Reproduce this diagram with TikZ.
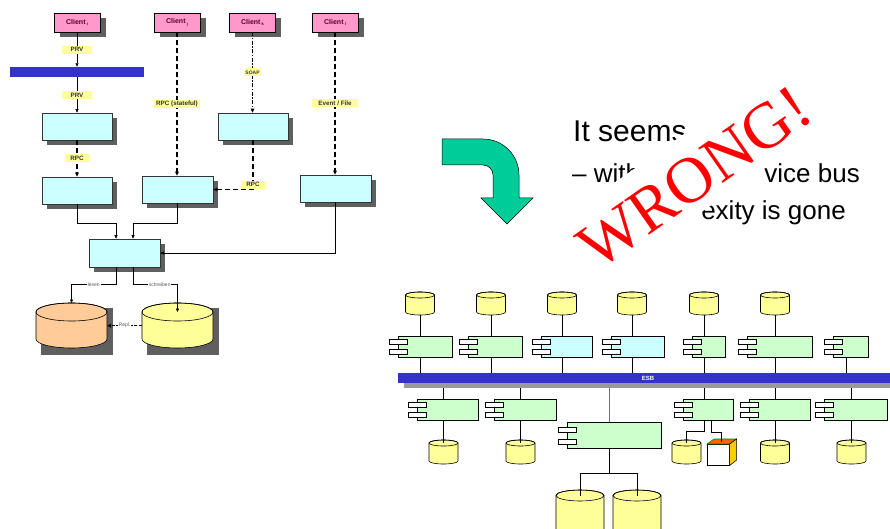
\documentclass[tikz,border=0pt]{standalone}
\usepackage{fontspec}
\setmainfont{Liberation Serif}
\setsansfont{Liberation Sans}
\usetikzlibrary{arrows.meta,shadows,calc}

\definecolor{pinkc}{HTML}{FF99CC}
\definecolor{cyanc}{HTML}{CCFFFF}
\definecolor{greenc}{HTML}{CCFFCC}
\definecolor{yellowc}{HTML}{FFFF99}
\definecolor{orangec}{HTML}{FFCC99}
\definecolor{busblue}{HTML}{3333CC}
\definecolor{busgray}{HTML}{999999}
\definecolor{shadowc}{HTML}{5F5F5F}
\definecolor{arrowgreen}{HTML}{00CC99}
\definecolor{clienttext}{HTML}{5A0030}
\definecolor{tagtext}{HTML}{333333}
\definecolor{cubetop}{HTML}{FF6600}
\definecolor{cubeside}{HTML}{FFCC00}
\definecolor{cubeedge}{HTML}{008000}

% database drum: name, centre x, top y, width, height, ellipse radius, fill
\newcommand\drawtank[7]{%
  \node[inner sep=0pt, minimum width=#4pt, minimum height=#5pt, anchor=north] (#1) at (#2,#3) {};
  \coordinate (#1t) at (#2,{#3+#6});
  \draw[tankline, fill=#7] ({#2-#4/2},{#3+#6}) -- ({#2-#4/2},{#3+#5-#6})
     arc[start angle=180, end angle=360, x radius={0.5pt*#4}, y radius={#6*1pt}]
     -- ({#2+#4/2},{#3+#6})
     arc[start angle=0, end angle=180, x radius={0.5pt*#4}, y radius={#6*1pt}] -- cycle;
  \draw[tankline] (#2,{#3+#6}) ellipse[x radius={0.5pt*#4}, y radius={#6*1pt}];
}
% UML component: name, left x, top y, width, height, fill, port offsets
\newcommand\umlcomp[8]{%
  \node[compbody, fill=#6, minimum width=#4pt, minimum height=#5pt, anchor=north west] (#1) at (#2,#3) {};
  \node[port, anchor=north west] (#1a) at ({#2-9},{#3+#7}) {};
  \node[port, anchor=north west] (#1b) at ({#2-9},{#3+#8}) {};
}

\begin{document}
\begin{tikzpicture}[x=1pt,y=-1pt,
  clientbox/.style={draw=black, line width=0.6pt, fill=pinkc, minimum width=46pt,
    minimum height=19pt, inner sep=0pt, text=clienttext,
    font=\sffamily\bfseries\fontsize{7}{8}\selectfont,
    drop shadow={shadow xshift=5.5pt, shadow yshift=-5pt, fill=shadowc, opacity=1}},
  procbox/.style={draw=black!80, line width=0.6pt, fill=cyanc, minimum width=70pt,
    minimum height=27pt, inner sep=0pt,
    drop shadow={shadow xshift=5pt, shadow yshift=-5pt, fill=shadowc, opacity=1}},
  tag/.style={fill=yellowc, inner sep=0pt, minimum height=8pt, text=tagtext,
    font=\sffamily\bfseries\fontsize{6.3}{7}\selectfont},
  note/.style={fill=white, inner sep=0.8pt, text=black!65,
    font=\sffamily\fontsize{5}{5}\selectfont},
  link/.style={line width=0.7pt, -{Triangle[length=3.5pt,width=3pt]}},
  dlink/.style={line width=1.3pt, dash pattern=on 5pt off 3pt,
    -{Triangle[length=4pt,width=3.5pt]}},
  ddlink/.style={line width=1.3pt, dash pattern=on 4pt off 1.5pt on 1.5pt off 1.5pt,
    -{Triangle[length=4pt,width=3.5pt]}},
  tankline/.style={draw=black, line width=0.6pt},
  compbody/.style={draw=black, line width=0.6pt, inner sep=0pt},
  port/.style={draw=black, line width=0.6pt, fill=white, minimum width=18pt,
    minimum height=5pt, inner sep=0pt},
  wire/.style={line width=0.7pt},
  slide/.style={inner sep=0pt, text=black, font=\sffamily\fontsize{26}{26}\selectfont}
]
\clip (0,0) rectangle (890,529);
\fill[white] (0,0) rectangle (890,529);

% ---------- point-to-point landscape ----------
\node[clientbox] (ci) at (77,22.5) {Client\,\raisebox{-1.5pt}{\fontsize{4}{4}\selectfont i}};
\node[clientbox] (cj) at (177,22.5) {Client\,\raisebox{-1.5pt}{\fontsize{4}{4}\selectfont j}};
\node[clientbox] (ck) at (252.5,22.5) {Client\,\raisebox{-1.5pt}{\fontsize{4}{4}\selectfont k}};
\node[clientbox] (cl) at (335,22.5) {Client\,\raisebox{-1.5pt}{\fontsize{4}{4}\selectfont l}};

\node[fill=busblue, minimum width=134pt, minimum height=10pt, inner sep=0pt] (bar) at (77,72) {};

\node[procbox] (a1) at (77,126.5) {};
\node[procbox] (b1) at (253,126.5) {};
\node[procbox] (a2) at (77,190.5) {};
\node[procbox, minimum width=71pt] (c2) at (177.5,189.5) {};
\node[procbox, minimum width=71pt] (d2) at (335.5,188.5) {};
\node[procbox, minimum width=71pt, minimum height=28pt] (hub) at (124.5,253) {};

\draw[link] (ci.south) -- node[tag, minimum width=30pt] {PRV} (ci.south |- bar.north);
\draw[link] (bar.south -| ci) -- node[tag, minimum width=30pt] {PRV} (a1.north);
\draw[dlink] (a1.south) -- node[tag, minimum width=25pt] {RPC} (a2.north);
\draw[dlink] (cj.south) -- node[tag, minimum width=46pt] {RPC (stateful)} (cj.south |- c2.north);
\draw[ddlink] (ck.south) -- node[tag, minimum width=16pt, font=\sffamily\bfseries\fontsize{5}{5}\selectfont] {SOAP} (ck.south |- b1.north);
\draw[dlink] (cl.south) -- node[tag, minimum width=46pt] {Event / File} (cl.south |- d2.north);
\draw[dlink] (b1.south) |- node[tag, minimum width=25pt, pos=0.45] {RPC} (c2.east);

\draw[link] (a2.south) -- ++(0,19) -| ([xshift=-8.5pt]hub.north);
\draw[link] (c2.south) -- ++(0,20) -| ([xshift=8.5pt]hub.north);
\draw[link] (d2.south) |- (hub.east);

% shared databases
\fill[shadowc] (41,308) rectangle (113,355);
\fill[shadowc] (147,308) rectangle (219,355);
\drawtank{dbread}{71.5}{303}{71}{45}{9}{orangec}
\drawtank{dbwrite}{177.5}{303}{71}{45}{9}{yellowc}

\draw[link] ([xshift=-8.5pt]hub.south) -- ++(0,17) -| node[note, pos=0.25] {lesen} (dbread.north);
\draw[link] ([xshift=8.5pt]hub.south) -- ++(0,17) -| node[note, pos=0.3] {schreiben} (dbwritet);
\draw[line width=1.3pt, dash pattern=on 3pt off 1.5pt, -{Triangle[length=4pt,width=4pt]}]
  (dbwrite.west) -- node[note] {Repl.} (dbread.east);

% ---------- turn arrow ----------
\draw[fill=arrowgreen, line width=0.5pt]
  (442,139) -- (483,139) arc[start angle=90, end angle=0, radius=36pt]
  -- (519,198) -- (533,198) -- (507,224) -- (481,198) -- (493,198) -- (493,175)
  arc[start angle=0, end angle=90, radius=10pt] -- (442,165) -- cycle;

% ---------- slide text ----------
\node[slide, font=\sffamily\fontsize{30}{30}\selectfont, anchor=base west] (line1) at (573,142) {It seems};
\node[slide, anchor=base west] (line2a) at (572,183) {– with};
\node[slide, anchor=base east] (line2b) at (860,183) {vice bus};
\node[slide, anchor=base east] (line3) at (846,219) {exity is gone};

% ---------- service bus landscape ----------
\drawtank{t1}{420}{292}{29}{23}{3}{yellowc}
\drawtank{t2}{491}{292}{29}{23}{3}{yellowc}
\drawtank{t3}{562}{292}{29}{23}{3}{yellowc}
\drawtank{t4}{632}{292}{29}{23}{3}{yellowc}
\drawtank{t5}{704}{292}{29}{23}{3}{yellowc}
\drawtank{t6}{775}{292}{29}{23}{3}{yellowc}

\umlcomp{k1}{398}{336}{54}{21}{greenc}{3}{13}
\umlcomp{k2}{468}{336}{54}{21}{greenc}{3}{13}
\umlcomp{k3}{541}{336}{51}{21}{cyanc}{3}{13}
\umlcomp{k4}{611}{336}{53}{21}{cyanc}{3}{13}
\umlcomp{k5}{692}{336}{33}{21}{greenc}{3}{13}
\umlcomp{k6}{747}{336}{65}{21}{greenc}{3}{13}
\umlcomp{k7}{833}{336}{35}{21}{greenc}{3}{13}

\node[fill=busgray, minimum width=490pt, minimum height=5pt, inner sep=0pt, anchor=north west] (esbshade) at (404,383) {};
\node[fill=busblue, minimum width=494pt, minimum height=10pt, inner sep=0pt, anchor=north west] (esb) at (398,373) {};
\node[text=white, inner sep=0pt, font=\sffamily\bfseries\fontsize{6}{6}\selectfont] (esblabel) at (648,378.5) {ESB};

\foreach \k/\t in {k1/t1,k2/t2,k3/t3,k4/t4,k5/t5,k6/t6}{
  \draw[wire] (\t.south) -- (\k.north -| \t);
  \draw[wire] (\k.south -| \t) -- (esb.north -| \t);
}
\draw[wire] ([xshift=-4.5pt]k7.south) -- ([xshift=-4.5pt]k7.south |- esb.north);

\umlcomp{m1}{417}{399}{61}{21}{greenc}{3}{13}
\umlcomp{m2}{494}{399}{62}{21}{greenc}{3}{13}
\umlcomp{m3}{683}{399}{50}{21}{greenc}{3}{13}
\umlcomp{m4}{749}{399}{61}{21}{greenc}{3}{13}
\umlcomp{m5}{824}{399}{63}{21}{greenc}{3}{13}
\umlcomp{m0}{567}{422}{94}{26}{greenc}{5}{17}

\drawtank{u1}{443.5}{440}{29}{24}{3}{yellowc}
\drawtank{u2}{520.5}{440}{29}{24}{3}{yellowc}
\drawtank{u3}{686.5}{440}{29}{24}{3}{yellowc}
\drawtank{u4}{775}{440}{29}{24}{3}{yellowc}
\drawtank{u5}{851.5}{440}{29}{24}{3}{yellowc}
\drawtank{w1}{580}{490}{48}{60}{5.5}{yellowc}
\drawtank{w2}{637}{490}{48}{60}{5.5}{yellowc}

% file store drawn as a small cube
\node[inner sep=0pt, minimum width=22pt, minimum height=21pt, anchor=north west, draw=black, fill=white, line width=0.6pt] (cube) at (707,444) {};
\coordinate (cubet) at (721,441.5);
\draw[fill=cubetop, draw=cubeedge, line width=0.6pt] (cube.north west) -- ++(7,-5) -- ++(22,0) -- (cube.north east) -- cycle;
\draw[fill=cubeside, draw=black, line width=0.6pt] (cube.north east) -- ++(7,-5) -- ++(0,21) -- (cube.south east) -- cycle;

\foreach \m/\u in {m1/u1,m2/u2,m4/u4,m5/u5}{
  \draw[wire] (esbshade.south -| \u) -- (\m.north -| \u);
  \draw[wire] (\m.south -| \u) -- (\u t);
}
\draw[wire] ([xshift=-4pt]m3.north) -- ([xshift=-4pt]m3.north |- esbshade.south);
\draw[wire] ([xshift=-4pt]m3.south) -- ++(0,11) -| (u3t);
\draw[wire] ([xshift=3pt]m3.south) -- ++(0,12) -| (cubet);

\draw[line width=1.6pt, draw=black!55] ([xshift=-5pt]m0.north) -- ([xshift=-5pt]m0.north |- esbshade.south);
\coordinate (split) at ($([xshift=-5pt]m0.south)+(0,25)$);
\draw[wire] ([xshift=-5pt]m0.south) -- (split);
\draw[wire] (w1t) |- (split) -| (w2t);

% ---------- verdict stamp ----------
\node[rotate=35, fill=white, text=red, inner xsep=2pt, inner ysep=0pt,
  text height=63pt, text depth=11pt, anchor=base,
  font=\rmfamily\fontsize{65}{65}\selectfont] (stamp) at (706.5,195.1) {WRONG!};
\end{tikzpicture}
\end{document}
